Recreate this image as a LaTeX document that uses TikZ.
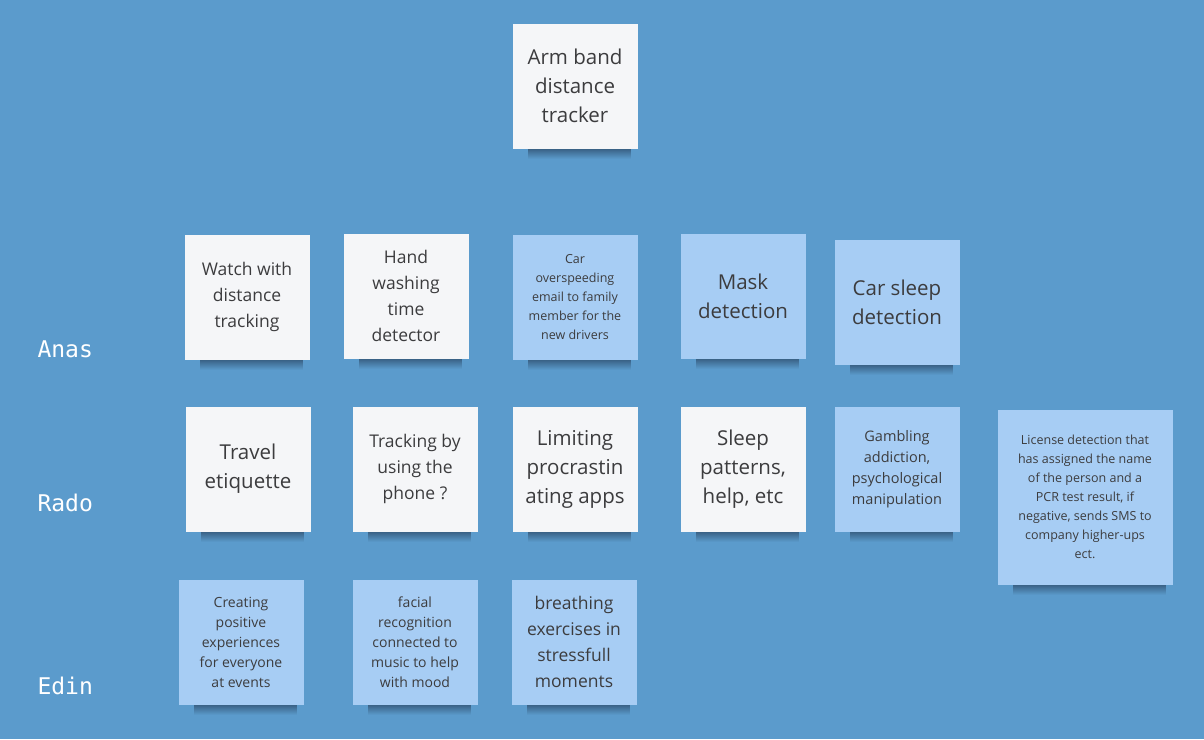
\documentclass[tikz,border=0pt]{standalone}
\usepackage{fontspec}
\setmainfont{Open Sans}
\newfontfamily\namefont{DejaVu Sans Mono}
\usetikzlibrary{fadings}
\definecolor{board}{RGB}{91,155,204}
\definecolor{notewhite}{RGB}{245,246,248}
\definecolor{noteblue}{RGB}{167,205,244}
\definecolor{notetext}{RGB}{60,60,62}
\definecolor{shade}{RGB}{30,50,75}

\begin{document}
\begin{tikzpicture}[x=1pt, y=-1pt,
    note/.style={minimum width=125pt, minimum height=125pt, inner sep=2pt, align=center, text=notetext},
    wnote/.style={note, fill=notewhite},
    bnote/.style={note, fill=noteblue},
    big/.style={font=\fontsize{20.5}{29}\selectfont},
    mid/.style={font=\fontsize{17.5}{26}\selectfont},
    small/.style={font=\fontsize{14.5}{21}\selectfont},
    tiny/.style={font=\fontsize{12.5}{19}\selectfont},
    who/.style={anchor=west, text=white, font=\namefont\fontsize{23}{26}\selectfont},
    under/.style={fill=shade, opacity=0.55, path fading=south},
]
% board
\fill[board] (0,0) rectangle (1204,739);

% top note
\node[wnote, big] (arm) at (575,86) {Arm band\\distance\\tracker};

% names
\node[who] (anas) at (34,349) {Anas};
\node[who] (rado) at (34,503) {Rado};
\node[who] (edin) at (34,686) {Edin};

% Anas row
\node[wnote, mid] (a1) at (247,297) {Watch with\\distance\\tracking};
\node[wnote, mid] (a2) at (406,296) {Hand\\washing\\time\\detector};
\node[bnote, tiny] (a3) at (575,297) {Car\\overspeeding\\email to family\\member for the\\new drivers};
\node[bnote, big] (a4) at (743,296) {Mask\\detection};
\node[bnote, big] (a5) at (897,302) {Car sleep\\detection};

% Rado row
\node[wnote, big] (r1) at (248,469) {Travel\\etiquette};
\node[wnote, mid] (r2) at (415,469) {Tracking by\\using the\\phone ?};
\node[wnote, big] (r3) at (575,469) {Limiting\\procrastin\\ating apps};
\node[wnote, big] (r4) at (743,469) {Sleep\\patterns,\\help, etc};
\node[bnote, small] (r5) at (897,469) {Gambling\\addiction,\\psychological\\manipulation};
\node[bnote, tiny, minimum width=175pt, minimum height=175pt] (r6) at (1085,497)
  {License detection that\\has assigned the name\\of the person and a\\PCR test result, if\\negative, sends SMS to\\company higher-ups\\ect.};

% Edin row
\node[bnote, font=\fontsize{14}{20}\selectfont] (e1) at (241,642) {Creating\\positive\\experiences\\for everyone\\at events};
\node[bnote, font=\fontsize{14}{20}\selectfont] (e2) at (415,642) {facial\\recognition\\connected to\\music to help\\with mood};
\node[bnote, mid] (e3) at (574,642) {breathing\\exercises in\\stressfull\\moments};

% shadows under the notes
\foreach \n in {arm,a1,a2,a3,a4,a5,r1,r2,r3,r4,r5,r6,e1,e2,e3}
  \fill[under] ([xshift=16pt]\n.south west) rectangle ([xshift=-7pt, yshift=-10pt]\n.south east);
\end{tikzpicture}
\end{document}
